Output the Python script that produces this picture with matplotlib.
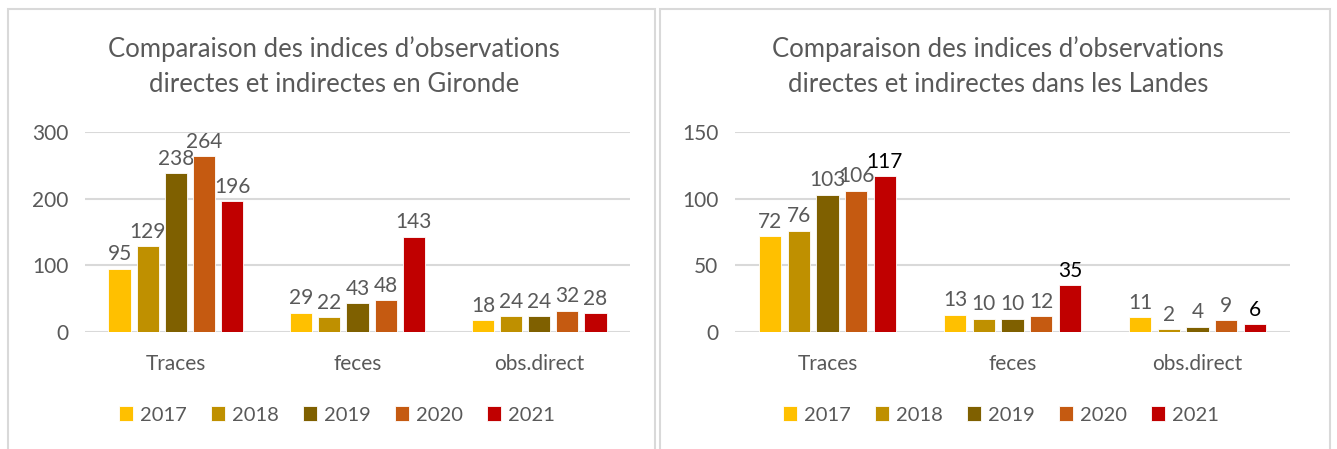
import matplotlib.pyplot as plt
import numpy as np
from matplotlib.patches import Rectangle

plt.rcParams['font.family'] = ['Lato', 'DejaVu Sans']

categories = ["Traces", "feces", "obs.direct"]
years = ["2017", "2018", "2019", "2020", "2021"]
colors = ["#FFC000", "#BF9000", "#7F6000", "#C55A11", "#C00000"]

gironde = {
    "2017": [95, 29, 18],
    "2018": [129, 22, 24],
    "2019": [238, 43, 24],
    "2020": [264, 48, 32],
    "2021": [196, 143, 28],
}
landes = {
    "2017": [72, 13, 11],
    "2018": [76, 10, 2],
    "2019": [103, 10, 4],
    "2020": [106, 12, 9],
    "2021": [117, 35, 6],
}

titre_gironde = "Comparaison des indices d\u2019observations\ndirectes et indirectes en Gironde"
titre_landes = "Comparaison des indices d\u2019observations\ndirectes et indirectes dans les Landes"

W, H = 1337, 449
fig = plt.figure(figsize=(W / 100, H / 100), dpi=100)
fig.patch.set_facecolor("white")

# cadres des deux graphiques
for x0, x1 in [(8, 655), (660, 1330)]:
    fig.patches.append(Rectangle((x0 / W, -0.05), (x1 - x0) / W, 1 - 9 / H + 0.05,
                                 transform=fig.transFigure, fill=False,
                                 edgecolor="#D9D9D9", linewidth=1.5))

gris = "#595959"


def tracer(ax, data, ymax, step, titre, label_noir, cx, lx):
    x = np.arange(len(categories))
    pas = 0.155
    larg = 0.122
    for i, an in enumerate(years):
        pos = x + (i - 2) * pas
        bars = ax.bar(pos, data[an], width=larg, color=colors[i],
                      edgecolor="white", linewidth=0.6, label=an, zorder=3)
        for b, v, j in zip(bars, data[an], range(3)):
            c = "black" if (an, j) in label_noir else gris
            ax.annotate(str(v), (b.get_x() + b.get_width() / 2, v),
                        xytext=(0, 3), textcoords="offset points",
                        ha="center", va="bottom", fontsize=15, color=c)
    ax.set_xlim(-0.5, 2.5)
    ax.set_ylim(0, ymax)
    ax.set_yticks(np.arange(0, ymax + 1, step))
    ax.set_xticks(x)
    ax.set_xticklabels(categories)
    ax.grid(axis="y", color="#D9D9D9", linewidth=1.5, zorder=0)
    for s in ax.spines.values():
        s.set_visible(False)
    ax.tick_params(length=0, labelsize=15, colors=gris, pad=12)
    ax.tick_params(axis="x", pad=16)
    fig.text(cx, 1 - 67 / H, titre, ha="center", va="center",
             fontsize=18.5, color=gris, linespacing=1.5)
    ax.legend(loc="center", bbox_to_anchor=(lx / W, 1 - 415 / H),
              bbox_transform=fig.transFigure, ncol=5,
              frameon=False, fontsize=14.5, labelcolor=gris,
              handlelength=0.7, handleheight=0.7, handletextpad=0.35,
              columnspacing=1.2)


ax1 = fig.add_axes([85 / W, 1 - 332 / H, (630 - 85) / W, 200 / H])
tracer(ax1, gironde, 300, 100, titre_gironde, set(), 334 / W, 337)

ax2 = fig.add_axes([735 / W, 1 - 332 / H, (1290 - 735) / W, 200 / H])
tracer(ax2, landes, 150, 50, titre_landes,
       {("2021", 0), ("2021", 1), ("2021", 2)}, 998 / W, 1001)

fig.savefig("out.png", dpi=100, facecolor="white")
